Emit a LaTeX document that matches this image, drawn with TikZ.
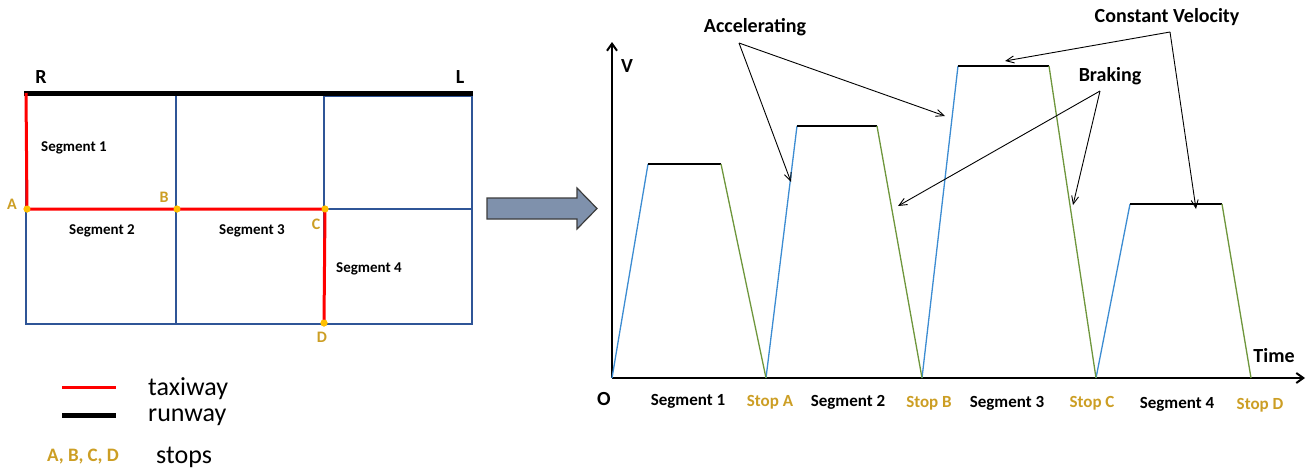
\documentclass[tikz,border=0pt]{standalone}
\usepackage{fontspec}
\setmainfont{Carlito}
\usetikzlibrary{arrows.meta}
\definecolor{gridblue}{RGB}{47,85,151}
\definecolor{gold}{RGB}{204,158,36}
\definecolor{dotyellow}{RGB}{255,192,0}
\definecolor{accblue}{RGB}{60,140,210}
\definecolor{brkgreen}{RGB}{110,150,60}
\definecolor{arrfill}{RGB}{127,145,172}
\definecolor{arrdraw}{RGB}{60,60,60}
\tikzset{
  gridline/.style={gridblue, line width=1.2pt},
  taxi/.style={red, line width=3pt},
  runwayline/.style={black, line width=5pt},
  stopdot/.style={circle, fill=dotyellow, inner sep=0pt, minimum size=7pt},
  seglbl/.style={font=\bfseries\fontsize{15}{15}\selectfont, inner sep=0pt},
  stoplbl/.style={font=\bfseries\fontsize{16}{16}\selectfont, text=gold, inner sep=0pt},
  bigbold/.style={font=\bfseries\fontsize{20}{20}\selectfont, inner sep=0pt},
  botlbl/.style={font=\bfseries\fontsize{17}{17}\selectfont, inner sep=0pt},
  botstop/.style={font=\bfseries\fontsize{17}{17}\selectfont, text=gold, inner sep=0pt},
  legtxt/.style={font=\fontsize{26}{26}\selectfont, inner sep=0pt, anchor=west},
  axisline/.style={black, line width=2pt, -{Straight Barb[length=7pt,width=10pt]}},
  acc/.style={accblue, line width=1.3pt},
  cst/.style={black, line width=1.3pt},
  brk/.style={brkgreen, line width=1.3pt},
  note/.style={black, line width=0.9pt, -{Straight Barb[length=8pt,width=7pt]}},
  blockarrow/.style={draw=arrdraw, line width=1.2pt, fill=arrfill, line join=miter},
}
\begin{document}
\begin{tikzpicture}[x=1pt,y=-1pt]
\useasboundingbox (0,0) rectangle (1311,475);

% ---------- left map ----------
\coordinate (RC) at (26,93);
\coordinate (LC) at (472,93);
% grid
\draw[gridline] (26,93) -- (26,324) -- (472,324) -- (472,96) -- (324,96);
\draw[gridline] (176,95) -- (176,324);
\draw[gridline] (324,95) -- (324,324);
\draw[gridline] (26,209) -- (472,209);
% runway
\draw[runwayline] (24,93) -- (473,93);
% stops
\node[stopdot] (A) at (27,209) {};
\node[stopdot] (B) at (177,209) {};
\node[stopdot] (C) at (325,209) {};
\node[stopdot] (D) at (324,323) {};
% taxiway
\draw[taxi] (RC) -- (A.center) -- (B.center) -- (C.center) -- (D.center);
\node[stopdot] at (A) {};
\node[stopdot] at (B) {};
\node[stopdot] at (C) {};
\node[stopdot] at (D) {};
% labels
\node[bigbold] (Rl) at (41,77) {R};
\node[bigbold] (Ll) at (460,77) {L};
\node[stoplbl] (Al) at (12,204) {A};
\node[stoplbl] (Bl) at (164,197) {B};
\node[stoplbl] (Cl) at (316,224) {C};
\node[stoplbl] (Dl) at (322,337) {D};
\node[seglbl] (s1) at (74,148) {Segment 1};
\node[seglbl] (s2) at (102,231) {Segment 2};
\node[seglbl] (s3) at (252,231) {Segment 3};
\node[seglbl] (s4) at (369,269) {Segment 4};

% legend
\coordinate (lt1) at (62,387);
\coordinate (lt2) at (116,387);
\coordinate (lr1) at (62,415);
\coordinate (lr2) at (116,415);
\draw[taxi] (lt1) -- (lt2);
\draw[runwayline] (lr1) -- (lr2);
\node[legtxt] (taxiway) at (148,389) {taxiway};
\node[legtxt] (runway) at (148,417) {runway};
\node[font=\bfseries\fontsize{19}{19}\selectfont, text=gold, inner sep=0pt] (abcd) at (83,457) {A, B, C, D};
\node[legtxt] (stops) at (156,457) {stops};

% big arrow
\draw[blockarrow] (487,198) -- (577,198) -- (577,188) -- (597,208.5) -- (577,229) -- (577,219) -- (487,219) -- cycle;

% ---------- chart ----------
\coordinate (O) at (612,378);
\coordinate (vtip) at (612,42);
\coordinate (ttip) at (1305,378);
\draw[axisline] (O) -- (vtip);
\draw[axisline] (O) -- (ttip);
\node[bigbold] (Vl) at (627,66) {V};
\node[bigbold] (Timel) at (1274,356) {Time};
\node[bigbold] (Ol) at (604,399) {O};

\coordinate (p0) at (612,378);
\coordinate (p1) at (648,164);
\coordinate (p2) at (721,164);
\coordinate (p3) at (766,378);
\coordinate (p4) at (797,126);
\coordinate (p5) at (877,126);
\coordinate (p6) at (922,378);
\coordinate (p7) at (958,66);
\coordinate (p8) at (1049,66);
\coordinate (p9) at (1096,378);
\coordinate (p10) at (1130,204);
\coordinate (p11) at (1222,204);
\coordinate (p12) at (1251,378);
\draw[acc] (p0) -- (p1);
\draw[acc] (p3) -- (p4);
\draw[acc] (p6) -- (p7);
\draw[acc] (p9) -- (p10);
\draw[cst] (p1) -- (p2);
\draw[cst] (p4) -- (p5);
\draw[cst] (p7) -- (p8);
\draw[cst] (p10) -- (p11);
\draw[brk] (p2) -- (p3);
\draw[brk] (p5) -- (p6);
\draw[brk] (p8) -- (p9);
\draw[brk] (p11) -- (p12);

% annotations
\node[bigbold] (accl) at (755,27) {Accelerating};
\node[bigbold] (cvl) at (1167,17) {Constant Velocity};
\node[bigbold] (brl) at (1110,76) {Braking};
\coordinate (accs) at (739,43);
\coordinate (cvs) at (1170,32);
\coordinate (brs) at (1100,91);
\coordinate (acce1) at (791,182);
\coordinate (acce2) at (945,116);
\coordinate (cve1) at (1005,61);
\coordinate (cve2) at (1196,209);
\coordinate (bre1) at (898,206);
\coordinate (bre2) at (1073,205);
\draw[note] (accs) -- (acce1);
\draw[note] (accs) -- (acce2);
\draw[note] (cvs) -- (cve1);
\draw[note] (cvs) -- (cve2);
\draw[note] (brs) -- (bre1);
\draw[note] (brs) -- (bre2);

% bottom labels
\node[botlbl] (b1) at (688,401) {Segment 1};
\node[botstop] (bA) at (770,402) {Stop A};
\node[botlbl] (b2) at (848,402) {Segment 2};
\node[botstop] (bB) at (929,403) {Stop B};
\node[botlbl] (b3) at (1007,403) {Segment 3};
\node[botstop] (bC) at (1092,403) {Stop C};
\node[botlbl] (b4) at (1177,404) {Segment 4};
\node[botstop] (bD) at (1260,405) {Stop D};
\end{tikzpicture}
\end{document}
